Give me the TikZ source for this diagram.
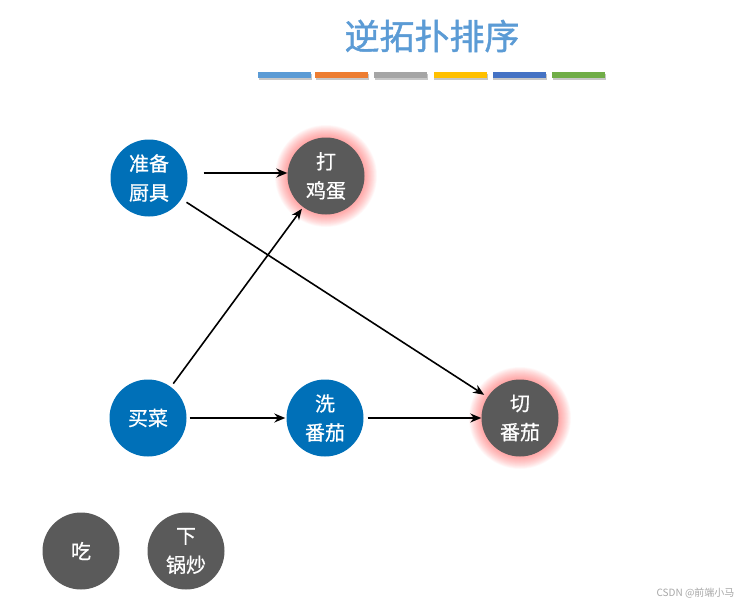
\documentclass[tikz,border=0pt]{standalone}
\usepackage{fontspec}
\setmainfont{Noto Sans CJK SC}
\newfontfamily\titlefont[FakeBold=1.2]{Noto Sans CJK SC}
\newfontfamily\nodefont[FakeBold=0.6]{Noto Sans CJK SC}
\usetikzlibrary{arrows.meta,backgrounds}
\definecolor{nblue}{HTML}{0070B8}
\definecolor{ngray}{HTML}{5A5A5A}
\definecolor{tblue}{HTML}{5B9BD5}
\definecolor{b1}{HTML}{5B9BD5}
\definecolor{b2}{HTML}{ED7D31}
\definecolor{b3}{HTML}{A5A5A5}
\definecolor{b4}{HTML}{FFC000}
\definecolor{b5}{HTML}{4472C4}
\definecolor{b6}{HTML}{70AD47}
\definecolor{glowc}{HTML}{FF4040}
\tikzset{
  nd/.style={circle, minimum size=77pt, inner sep=0pt, text=white, align=center,
    font=\nodefont\fontsize{20}{29}\selectfont},
  bluend/.style={nd, fill=nblue},
  grayend/.style={nd, fill=ngray},
  edge/.style={-{Stealth[length=11pt,width=9pt]}, line width=1.6pt, black},
  bar/.style={minimum width=53pt, minimum height=6pt, inner sep=0pt}
}
\begin{document}
\begin{tikzpicture}[x=1pt,y=-1pt]
\useasboundingbox (0,0) rectangle (743,607);
\node[font=\titlefont\fontsize{35}{38}\selectfont, text=tblue] (title) at (432,36) {逆拓扑排序};
\foreach \c/\x [count=\i] in {b1/284.5,b2/341.5,b3/400.5,b4/460,b5/519,b6/578.5}{
  \fill[black!22] (\x-26,74) rectangle (\x+27.5,80.5);
  \node[bar, fill=\c] (bar\i) at (\x,75) {};
}
\node[bluend] (prep) at (149,178) {准备\\厨具};
\node[grayend] (egg) at (326,176) {打\\鸡蛋};
\node[bluend] (buy) at (148,418) {买菜};
\node[bluend] (wash) at (325,418) {洗\\番茄};
\node[grayend] (cut) at (520,418) {切\\番茄};
\node[grayend] (eat) at (81,551) {吃};
\node[grayend] (fry) at (186,551) {下\\锅炒};
\begin{scope}[on background layer]
  \foreach \n in {egg,cut}{
    \foreach \r in {1,...,18}{
      \fill[glowc, opacity=0.035] (\n.center) circle (37.5+\r*0.75);
    }
  }
\end{scope}
\coordinate (pe) at ([xshift=16pt,yshift=5pt]prep.east);
\draw[edge] (pe) -- (pe -| egg.west);
\draw[edge, shorten <=6pt, shorten >=4pt] (prep) -- (cut);
\draw[edge, shorten <=4pt, shorten >=2pt] (buy) -- (egg);
\draw[edge, shorten <=3pt, shorten >=1pt] (buy) -- (wash);
\draw[edge, shorten <=4pt, shorten >=0pt] (wash) -- (cut);
\node[text=black!35, font=\fontsize{10}{12}\selectfont, anchor=east] (wm) at (738,593) {CSDN @前端小马};
\end{tikzpicture}
\end{document}
